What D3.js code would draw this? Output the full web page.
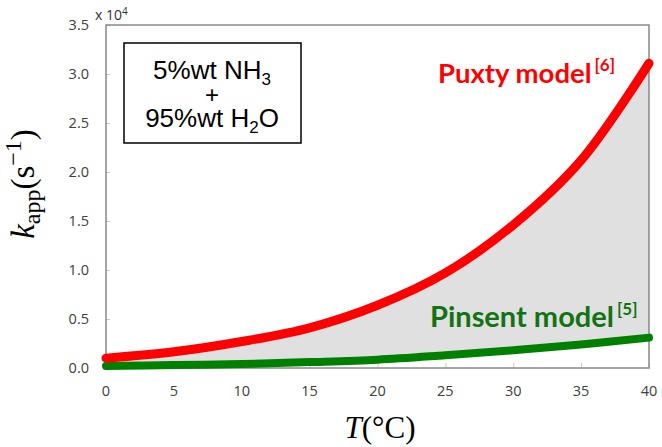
<!DOCTYPE html>
<html><head><meta charset="utf-8">
<script src="https://cdn.jsdelivr.net/npm/d3@7"></script>
<style>body{margin:0;background:#fff}svg{display:block}</style>
</head><body><svg id="c" width="662" height="447"></svg>
<script>
const temps = [0, 5, 10, 15, 20, 25, 30, 35, 40];
const puxty = [0.10, 0.165, 0.27, 0.41, 0.64, 0.97, 1.46, 2.12, 3.11];
const pinsent = [0.02, 0.03, 0.04, 0.06, 0.085, 0.13, 0.18, 0.24, 0.31];
const xTicks = [0, 5, 10, 15, 20, 25, 30, 35, 40];
const yTicks = [0, 0.5, 1.0, 1.5, 2.0, 2.5, 3.0, 3.5];

const svg = d3.select("#c");
const x = d3.scaleLinear().domain([0, 40]).range([106, 649]);
const y = d3.scaleLinear().domain([0, 3.5]).range([368, 25]);
const data = temps.map((t, i) => ({t, p: puxty[i], s: pinsent[i]}));
const curve = d3.curveCatmullRom;

svg.append("path").datum(data)
  .attr("d", d3.area().x(d => x(d.t)).y0(d => y(d.s)).y1(d => y(d.p)).curve(curve))
  .attr("fill", "#e0e0e0");

const tickFont = "'Open Sans', sans-serif";
const yAx = svg.append("g").attr("transform", "translate(106,0)")
  .call(d3.axisRight(y).tickValues(yTicks).tickSize(4).tickFormat(""));
yAx.select(".domain").remove();
yAx.selectAll("line").attr("stroke", "#c8c8c8");
const xAx = svg.append("g").attr("transform", "translate(0,368)")
  .call(d3.axisTop(x).tickValues(xTicks).tickSize(5).tickFormat(""));
xAx.select(".domain").remove();
xAx.selectAll("line").attr("stroke", "#c8c8c8");

svg.append("rect").attr("x", 106).attr("y", 25).attr("width", 543).attr("height", 343)
  .attr("fill", "none").attr("stroke", "#888").attr("stroke-width", 1.5);

svg.append("g").selectAll("text").data(yTicks).join("text")
  .attr("x", 89).attr("y", d => y(d) + 5).attr("text-anchor", "end")
  .attr("font-family", tickFont).attr("font-size", 14.5).attr("fill", "#404040")
  .text(d => d3.format(".1f")(d));
svg.append("g").selectAll("text").data(xTicks).join("text")
  .attr("x", d => x(d)).attr("y", 396).attr("text-anchor", "middle")
  .attr("font-family", tickFont).attr("font-size", 14.5).attr("fill", "#404040")
  .text(d => d);
const mult = svg.append("text").attr("x", 95).attr("y", 20)
  .attr("font-family", tickFont).attr("font-size", 14).attr("fill", "#333");
mult.append("tspan").text("x 10");
mult.append("tspan").attr("font-size", 10).attr("dy", -5).text("4");

const line = key => d3.line().x(d => x(d.t)).y(d => y(d[key])).curve(curve);
svg.append("path").datum(data).attr("d", line("s")).attr("fill", "none")
  .attr("stroke", "#008000").attr("stroke-width", 8).attr("stroke-linecap", "round");
svg.append("path").datum(data).attr("d", line("p")).attr("fill", "none")
  .attr("stroke", "#ff0000").attr("stroke-width", 9).attr("stroke-linecap", "round");

svg.append("rect").attr("x", 124).attr("y", 43).attr("width", 177).attr("height", 100)
  .attr("fill", "#fff").attr("stroke", "#000").attr("stroke-width", 1.5);
const bf = "'Liberation Sans', Arial, sans-serif";
const t1 = svg.append("text").attr("x", 212).attr("y", 79).attr("text-anchor", "middle")
  .attr("font-family", bf).attr("font-size", 26);
t1.append("tspan").text("5%wt NH");
t1.append("tspan").attr("font-size", 17).attr("dy", 6).text("3");
svg.append("text").attr("x", 212).attr("y", 103).attr("text-anchor", "middle")
  .attr("font-family", bf).attr("font-size", 24).text("+");
const t3 = svg.append("text").attr("x", 212).attr("y", 127).attr("text-anchor", "middle")
  .attr("font-family", bf).attr("font-size", 26);
t3.append("tspan").text("95%wt H");
t3.append("tspan").attr("font-size", 17).attr("dy", 6).text("2");
t3.append("tspan").attr("dy", -6).text("O");

const lf = "Lato, 'Open Sans', sans-serif";
function label(x0, yb, main, sup, color, fs) {
  const m = svg.append("text").attr("x", x0).attr("y", yb)
    .attr("font-family", lf).attr("font-weight", "bold").attr("font-size", fs).attr("fill", color)
    .text(main);
  const w = m.node().getComputedTextLength();
  svg.append("text").attr("x", x0 + w + 3).attr("y", yb - 12)
    .attr("font-family", lf).attr("font-weight", "bold").attr("font-size", 17).attr("fill", color)
    .text(sup);
}
label(438, 83, "Puxty model", "[6]", "#ff0000", 27.5);
label(430, 327, "Pinsent model", "[5]", "#137313", 29);

const sf = "'Liberation Serif', 'DejaVu Serif', serif";
svg.append("text").attr("x", 380).attr("y", 438).attr("text-anchor", "middle")
  .attr("font-family", sf).attr("font-size", 31).attr("fill", "#000")
  .call(t => {
    t.append("tspan").attr("font-style", "italic").text("T");
    t.append("tspan").text("(°C)");
  });
const yt = svg.append("text").attr("transform", "translate(34,184) rotate(-90)")
  .attr("text-anchor", "middle").attr("font-family", sf).attr("font-size", 33).attr("fill", "#000");
yt.append("tspan").attr("font-style", "italic").text("k");
yt.append("tspan").attr("font-size", 24).attr("dy", 6).text("app");
yt.append("tspan").attr("dy", -6).text("(s");
yt.append("tspan").attr("font-size", 24).attr("dy", -13).text("−1");
yt.append("tspan").attr("dy", 13).text(")");
</script></body></html>
